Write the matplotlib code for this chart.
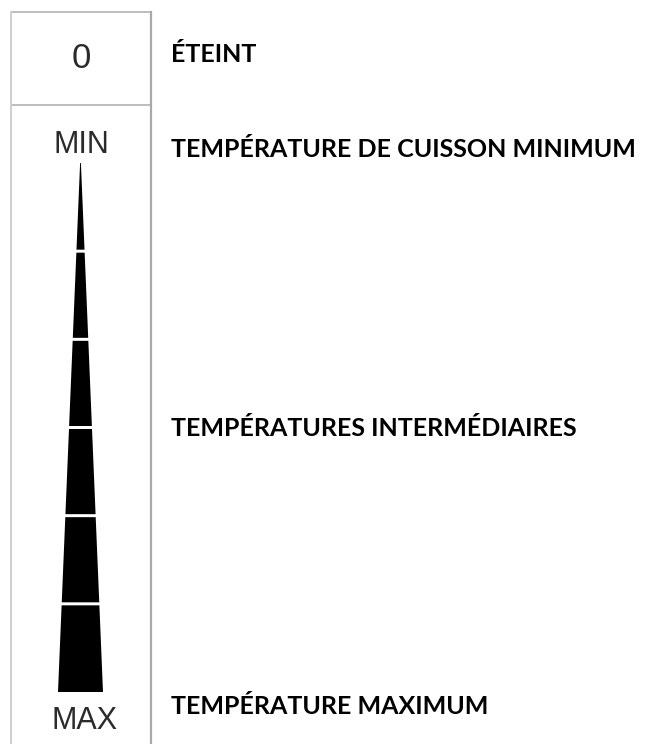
import matplotlib
matplotlib.use("Agg")
import matplotlib.pyplot as plt
from matplotlib.patches import Polygon

# ---- content ----
dial_labels = ["0", "MIN", "MAX"]
descriptions = ["ÉTEINT", "TEMPÉRATURE DE CUISSON MINIMUM",
                "TEMPÉRATURES INTERMÉDIAIRES", "TEMPÉRATURE MAXIMUM"]
n_segments = 6           # number of wedge steps between MIN and MAX

# ---- layout (pixel coordinates, y downwards) ----
W, H = 648, 744
fig = plt.figure(figsize=(W / 100, H / 100), dpi=100)
ax = fig.add_axes([0, 0, 1, 1])
ax.set_xlim(0, W)
ax.set_ylim(H, 0)
ax.axis("off")

box_l, box_r, box_t, box_div = 10.5, 150.5, 11.5, 104.5
grey = "#bdbdbd"
ax.plot([box_l, box_r], [box_t, box_t], color=grey, lw=1.4, solid_capstyle="butt")
ax.plot([box_l, box_r], [box_div, box_div], color=grey, lw=1.4, solid_capstyle="butt")
ax.plot([box_l, box_l], [box_t, H], color="#cfcfcf", lw=1.4)
ax.plot([box_r, box_r], [box_t, H], color="#a9a9a9", lw=1.6)

cx = 81
txt_col = "#2b2b2b"
ax.text(cx, 58, dial_labels[0], ha="center", va="center", fontsize=25,
        family="Liberation Sans", color=txt_col)
ax.text(cx + 0.5, 153, dial_labels[1], ha="center", va="baseline", fontsize=22,
        family="Liberation Sans", color=txt_col)
ax.text(cx + 4, 729, dial_labels[2], ha="center", va="baseline", fontsize=22,
        family="Liberation Sans", color=txt_col)

# wedge
tip_y, base_y = 163, 692
tip_w, base_w = 0.8, 45
wc = 80.5
gap = 1.5
def half_width(y):
    return (tip_w + (base_w - tip_w) * (y - tip_y) / (base_y - tip_y)) / 2
step = (base_y - tip_y) / n_segments
for i in range(n_segments):
    y0 = tip_y + i * step + (gap if i > 0 else 0)
    y1 = tip_y + (i + 1) * step - (gap if i < n_segments - 1 else 0)
    pts = [(wc - half_width(y0), y0), (wc + half_width(y0), y0),
           (wc + half_width(y1), y1), (wc - half_width(y1), y1)]
    ax.add_patch(Polygon(pts, closed=True, facecolor="black", edgecolor="none"))

# descriptions
desc_y = [62, 157, 436, 714]
texts = []
for t, y in zip(descriptions, desc_y):
    texts.append(ax.text(171, y, t, ha="left", va="baseline", fontsize=18.5,
                         family="Lato", fontweight="bold", color="black"))

# fit the longest description to the reference width (~468 px)
fig.canvas.draw()
r = fig.canvas.get_renderer()
wlong = texts[1].get_window_extent(r).width
fs = 18.5 * 468 / wlong
for t in texts:
    t.set_fontsize(fs)

fig.savefig("out.png", dpi=100, facecolor="white")
